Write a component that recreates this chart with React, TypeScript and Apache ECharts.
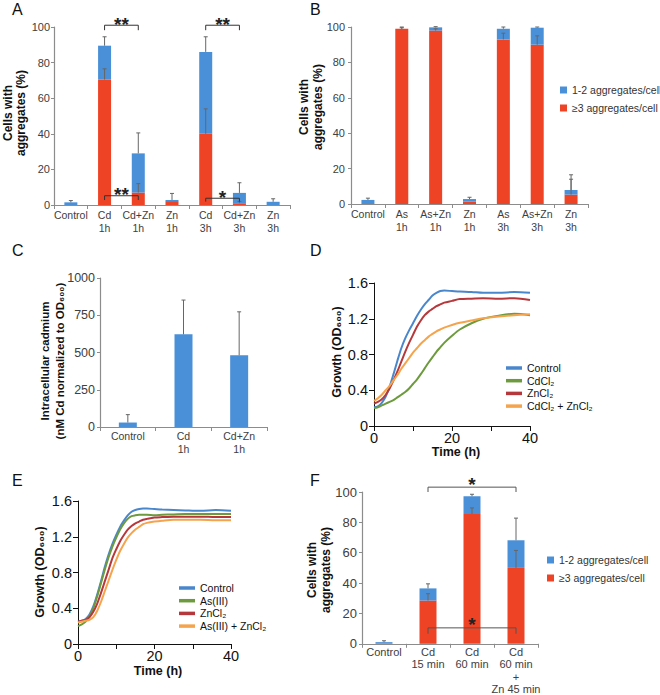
import React, { useEffect, useRef } from "react";
import * as echarts from "echarts";

const FONT = "'Liberation Sans', Arial, Helvetica, sans-serif";
const BLUE = "#4a90d9";
const RED = "#ee4325";
const AX = "#8c8c8c";
const TXT = "#404040";
const ERR = "#666666";
const BLK = "#111111";
const C_CTRL = "#4a86cc";
const C_GREEN = "#6c9a3d";
const C_RED = "#b5393c";
const C_ORANGE = "#f5a44c";

const NAME_LOW = "1-2 aggregates/cell";
const NAME_HIGH = "≥3 aggregates/cell";

// Panel A
const catsA = ["Control", "Cd\n1h", "Cd+Zn\n1h", "Zn\n1h", "Cd\n3h", "Cd+Zn\n3h", "Zn\n3h"];
const redA = [0, 70.5, 7, 2.2, 40, 1, 0];
const blueA = [1.5, 19, 22, 0.6, 46, 5.8, 1.8];
const errTotA = [2.5, 94.5, 40.5, 6.5, 94.5, 12.5, 3.5];
const errRedA = [null, 76.5, 12, null, 54, 2, null];
// [fromCat, toCat, lineValue, tickEndValue, label]
const bracketsA: [number, number, number, number, string][] = [
  [1, 2, 101, 98.2, "**"],
  [4, 5, 101, 98.2, "**"],
  [1, 2, 5.2, 2.8, "**"],
  [4, 5, 3.8, 1.9, "*"],
];

// Panel B
const catsB = ["Control", "As\n1h", "As+Zn\n1h", "Zn\n1h", "As\n3h", "As+Zn\n3h", "Zn\n3h"];
const redB = [0, 99, 98, 1.3, 93, 90, 5.3];
const blueB = [2.3, 0, 1.8, 1.5, 6, 9.6, 2.6];
const errTotB = [3.3, 100, 100.2, 3.8, 100, 100, 16.5];
const errRedB = [null, 99.6, 99, null, 96.5, 95, 14];

// Panel C
const catsC = ["Control", "Cd\n1h", "Cd+Zn\n1h"];
const valC = [30, 622, 481];
const errC = [83, 852, 773];

// Panel D / E (time in h, OD600)
const timeD = [0, 1, 2, 3, 4, 5, 6, 7, 8, 9, 10, 11, 12, 13, 14, 15, 16, 17, 18, 20, 22, 25, 28, 32, 36, 40];
const ctrlD = [0.21, 0.22, 0.26, 0.33, 0.44, 0.58, 0.73, 0.87, 0.98, 1.07, 1.15, 1.23, 1.3, 1.36, 1.41, 1.46, 1.49, 1.51, 1.515, 1.51, 1.505, 1.5, 1.49, 1.49, 1.5, 1.49];
const cdD = [0.2, 0.21, 0.23, 0.25, 0.27, 0.29, 0.32, 0.35, 0.38, 0.42, 0.47, 0.52, 0.58, 0.645, 0.71, 0.77, 0.83, 0.88, 0.93, 1.01, 1.08, 1.15, 1.2, 1.235, 1.255, 1.24];
const znD = [0.25, 0.27, 0.3, 0.35, 0.42, 0.51, 0.61, 0.72, 0.83, 0.93, 1.02, 1.11, 1.18, 1.24, 1.28, 1.31, 1.34, 1.36, 1.38, 1.4, 1.42, 1.425, 1.43, 1.425, 1.43, 1.41];
const cdznD = [0.28, 0.31, 0.35, 0.4, 0.45, 0.51, 0.57, 0.64, 0.7, 0.76, 0.82, 0.87, 0.92, 0.96, 1.0, 1.03, 1.06, 1.08, 1.1, 1.13, 1.155, 1.18, 1.205, 1.225, 1.24, 1.25];

const timeE = [0, 1, 2, 3, 4, 5, 6, 7, 8, 9, 10, 11, 12, 13, 14, 15, 16, 17, 18, 20, 22, 25, 28, 32, 36, 40];
const ctrlE = [0.25, 0.26, 0.28, 0.33, 0.42, 0.55, 0.7, 0.86, 1.0, 1.12, 1.22, 1.31, 1.38, 1.44, 1.48, 1.5, 1.51, 1.515, 1.515, 1.51, 1.505, 1.5, 1.495, 1.49, 1.5, 1.49];
const asE = [0.2, 0.22, 0.25, 0.31, 0.4, 0.53, 0.68, 0.83, 0.97, 1.09, 1.19, 1.28, 1.35, 1.4, 1.43, 1.44, 1.445, 1.445, 1.445, 1.44, 1.445, 1.45, 1.455, 1.455, 1.455, 1.455];
const znE = [0.25, 0.26, 0.27, 0.3, 0.36, 0.45, 0.57, 0.7, 0.83, 0.96, 1.06, 1.15, 1.22, 1.28, 1.32, 1.35, 1.37, 1.39, 1.4, 1.415, 1.42, 1.425, 1.425, 1.425, 1.42, 1.42];
const asznE = [0.24, 0.25, 0.26, 0.27, 0.3, 0.37, 0.47, 0.59, 0.71, 0.83, 0.94, 1.04, 1.12, 1.19, 1.24, 1.28, 1.31, 1.34, 1.355, 1.37, 1.38, 1.39, 1.39, 1.39, 1.385, 1.385];

// Panel F
const catsF = ["Control", "Cd\n15 min", "Cd\n60 min", "Cd\n60 min\n+\nZn 45 min"];
const redF = [0, 28.5, 85.5, 50];
const blueF = [1.1, 8, 11.7, 18.2];
const errTotF = [2, 39.5, 98.5, 82.8];
const errRedF = [null, 33, 89.5, 61.5];
const bracketsF: [number, number, number, number, string][] = [
  [1, 3, 103.2, 100, "*"],
  [1, 3, 10.5, 6.6, "*"],
];

const errRender = (params: any, api: any) => {
  const x = api.value(0);
  const lo = api.coord([x, api.value(1)]);
  const hi = api.coord([x, api.value(2)]);
  return {
    type: "group",
    children: [
      { type: "line", shape: { x1: lo[0], y1: lo[1], x2: hi[0], y2: hi[1] }, style: { stroke: ERR, lineWidth: 1 } },
      { type: "line", shape: { x1: hi[0] - 2, y1: hi[1], x2: hi[0] + 2, y2: hi[1] }, style: { stroke: ERR, lineWidth: 1 } },
    ],
  };
};

const bracketRender = (list: [number, number, number, number, string][], gap: number, color: string) =>
  (params: any, api: any) => {
    const b = list[params.dataIndex];
    const pL = api.coord([b[0], b[2]]);
    const pR = api.coord([b[1], b[2]]);
    const t = api.coord([b[0], b[3]]);
    return {
      type: "group",
      children: [
        {
          type: "polyline",
          shape: { points: [[pL[0], t[1]], [pL[0], pL[1]], [pR[0], pR[1]], [pR[0], t[1]]] },
          style: { stroke: color, lineWidth: 1, fill: "none" },
        },
        {
          type: "text",
          x: (pL[0] + pR[0]) / 2,
          y: pL[1] - gap,
          style: { text: b[4], fontSize: 19, fontWeight: "bold", fontFamily: FONT, fill: "#222", align: "center", verticalAlign: "middle" },
        },
      ],
    };
  };

function errData(red: number[], blue: number[], errTot: (number | null)[], errRed: (number | null)[]) {
  const out: number[][] = [];
  red.forEach((r, i) => {
    if (errTot[i] != null) out.push([i, r + blue[i], errTot[i] as number]);
    if (errRed[i] != null) out.push([i, r, errRed[i] as number]);
  });
  return out;
}

function stackedBars(idx: number, red: number[], blue: number[], width: number, key: string) {
  return [
    { type: "bar", name: NAME_HIGH, xAxisIndex: idx, yAxisIndex: idx, stack: key, data: red, barWidth: width, itemStyle: { color: RED } },
    { type: "bar", name: NAME_LOW, xAxisIndex: idx, yAxisIndex: idx, stack: key, data: blue, barWidth: width, itemStyle: { color: BLUE } },
  ];
}

function errSeries(idx: number, data: number[][]) {
  return { type: "custom", xAxisIndex: idx, yAxisIndex: idx, data, encode: { x: 0, y: [1, 2] }, renderItem: errRender, z: 5, silent: true };
}

function lineSeries(idx: number, name: string, t: number[], v: number[], color: string) {
  return {
    type: "line",
    name,
    xAxisIndex: idx,
    yAxisIndex: idx,
    data: t.map((x, i) => [x, v[i]]),
    showSymbol: false,
    smooth: 0.3,
    lineStyle: { color, width: 2 },
    itemStyle: { color },
  };
}

const catX = (grid: number, data: string[], margin: number, fontSize: number, lh: number) => ({
  gridIndex: grid,
  type: "category",
  data,
  axisLine: { lineStyle: { color: AX, width: 1.2 } },
  axisTick: { show: true, length: 4, lineStyle: { color: AX } },
  axisLabel: { interval: 0, fontSize, color: TXT, lineHeight: lh, margin, fontFamily: FONT },
  splitLine: { show: false },
});

const valY = (grid: number, max: number, interval: number, fontSize: number, margin: number) => ({
  gridIndex: grid,
  type: "value",
  min: 0,
  max,
  interval,
  axisLine: { show: true, lineStyle: { color: AX, width: 1.2 } },
  axisTick: { show: true, length: 3, lineStyle: { color: AX } },
  axisLabel: { fontSize, color: TXT, margin, fontFamily: FONT, formatter: (v: number) => String(v) },
  splitLine: { show: false },
});

const timeX = (grid: number) => ({
  gridIndex: grid,
  type: "value",
  min: 0,
  max: 40,
  interval: 20,
  axisLine: { lineStyle: { color: BLK, width: 1 } },
  axisTick: { show: true, length: 5, lineStyle: { color: BLK } },
  minorTick: { show: true, splitNumber: 2, length: 5, lineStyle: { color: BLK } },
  axisLabel: { fontSize: 14.5, color: BLK, margin: 4, fontFamily: FONT },
  splitLine: { show: false },
  minorSplitLine: { show: false },
});

const odY = (grid: number) => ({
  gridIndex: grid,
  type: "value",
  min: 0,
  max: 1.6,
  interval: 0.4,
  axisLine: { show: true, lineStyle: { color: BLK, width: 1 } },
  axisTick: { show: true, length: 5, lineStyle: { color: BLK } },
  axisLabel: { fontSize: 14.5, color: BLK, margin: 6, fontFamily: FONT, formatter: (v: number) => (v === 0 ? "0" : v.toFixed(1)) },
  splitLine: { show: false },
});

const letter = (t: string, x: number, y: number) => ({
  type: "text",
  x,
  y,
  style: { text: t, fontSize: 16, fontFamily: FONT, fill: BLK },
});

const title = (t: string, x: number, y: number, fontSize: number, lh: number, rotate: boolean) => ({
  type: "text",
  x,
  y,
  rotation: rotate ? Math.PI / 2 : 0,
  style: { text: t, fontSize, fontWeight: "bold", lineHeight: lh, fontFamily: FONT, fill: BLK, align: "center", verticalAlign: "middle" },
});

const barLegend = (left: number, top: number) => ({
  data: [NAME_LOW, NAME_HIGH],
  orient: "vertical",
  left,
  top,
  padding: 0,
  icon: "rect",
  itemWidth: 7,
  itemHeight: 7,
  itemGap: 6,
  selectedMode: false,
  textStyle: { fontSize: 10.5, color: "#333", lineHeight: 12, fontFamily: FONT },
});

const lineLegend = (names: string[], left: number, top: number) => ({
  data: names,
  orient: "vertical",
  left,
  top,
  padding: 0,
  icon: "rect",
  itemWidth: 16,
  itemHeight: 3.5,
  itemGap: 1.7,
  selectedMode: false,
  textStyle: { fontSize: 10.5, color: BLK, lineHeight: 11, fontFamily: FONT },
});

export default function App() {
  const ref = useRef<HTMLDivElement>(null);
  useEffect(() => {
    if (!ref.current) return;
    const chart = echarts.init(ref.current, undefined, { renderer: "svg" });
    const option: any = {
      animation: false,
      textStyle: { fontFamily: FONT },
      grid: [
        { left: 54, top: 27, width: 236, height: 178 },
        { left: 351, top: 27, width: 237, height: 177 },
        { left: 100, top: 278, width: 167, height: 149 },
        { left: 374, top: 283, width: 156, height: 143 },
        { left: 78, top: 501, width: 153, height: 143 },
        { left: 362, top: 492, width: 176, height: 155 },
      ],
      xAxis: [
        catX(0, catsA, 3.5, 10.5, 13),
        catX(1, catsB, 3, 10.5, 13),
        catX(2, catsC, 2, 10.5, 13),
        timeX(3),
        timeX(4),
        catX(5, catsF, 2, 11, 12.3),
      ],
      yAxis: [
        valY(0, 100, 20, 11, 4),
        valY(1, 100, 20, 11, 6),
        valY(2, 1000, 250, 12.5, 5),
        odY(3),
        odY(4),
        valY(5, 100, 20, 13, 5),
      ],
      legend: [
        barLegend(560, 84),
        barLegend(547, 554),
        lineLegend(["Control", "CdCl₂", "ZnCl₂", "CdCl₂ + ZnCl₂"], 506, 362.5),
        lineLegend(["Control", "As(III)", "ZnCl₂", "As(III) + ZnCl₂"], 179, 582.5),
      ],
      graphic: {
        elements: [
          letter("A", 12, 1),
          letter("B", 310, 1),
          letter("C", 12, 242),
          letter("D", 310, 242),
          letter("E", 12, 472),
          letter("F", 310, 472),
          title("Cells with\naggregates (%)", 14.5, 113, 12, 13.5, true),
          title("Cells with\naggregates (%)", 311, 107, 12, 14, true),
          title("Intracellular cadmium\n(nM Cd normalized to OD₆₀₀)", 52.5, 361, 11.5, 15, true),
          title("Growth (OD₆₀₀)", 337, 352, 12.5, 14, true),
          title("Time (h)", 456, 452, 12.5, 14, false),
          title("Growth (OD₆₀₀)", 40, 572, 12.5, 14, true),
          title("Time (h)", 158, 671, 12.5, 14, false),
          title("Cells with\naggregates (%)", 319, 570, 12, 13.5, true),
        ],
      },
      series: [
        ...stackedBars(0, redA, blueA, 13, "A"),
        errSeries(0, errData(redA, blueA, errTotA, errRedA)),
        {
          type: "custom", xAxisIndex: 0, yAxisIndex: 0, silent: true, z: 6,
          data: bracketsA.map((b) => [b[0], b[2]]),
          encode: { x: 0, y: 1 },
          renderItem: bracketRender(bracketsA, 1, "#333"),
        },
        ...stackedBars(1, redB, blueB, 13, "B"),
        errSeries(1, errData(redB, blueB, errTotB, errRedB)),
        { type: "bar", name: "Intracellular cadmium", xAxisIndex: 2, yAxisIndex: 2, data: valC, barWidth: 18, itemStyle: { color: BLUE } },
        errSeries(2, valC.map((v, i) => [i, v, errC[i]])),
        lineSeries(3, "Control", timeD, ctrlD, C_CTRL),
        lineSeries(3, "CdCl₂", timeD, cdD, C_GREEN),
        lineSeries(3, "ZnCl₂", timeD, znD, C_RED),
        lineSeries(3, "CdCl₂ + ZnCl₂", timeD, cdznD, C_ORANGE),
        lineSeries(4, "Control", timeE, ctrlE, C_CTRL),
        lineSeries(4, "As(III)", timeE, asE, C_GREEN),
        lineSeries(4, "ZnCl₂", timeE, znE, C_RED),
        lineSeries(4, "As(III) + ZnCl₂", timeE, asznE, C_ORANGE),
        ...stackedBars(5, redF, blueF, 17, "F"),
        errSeries(5, errData(redF, blueF, errTotF, errRedF)),
        {
          type: "custom", xAxisIndex: 5, yAxisIndex: 5, silent: true, z: 6,
          data: bracketsF.map((b) => [b[0], b[2]]),
          encode: { x: 0, y: 1 },
          renderItem: bracketRender(bracketsF, 3, "#555"),
        },
      ],
    };
    chart.setOption(option);
    return () => chart.dispose();
  }, []);
  return <div ref={ref} style={{ position: "absolute", left: 0, top: 0, width: 660, height: 695 }} />;
}
